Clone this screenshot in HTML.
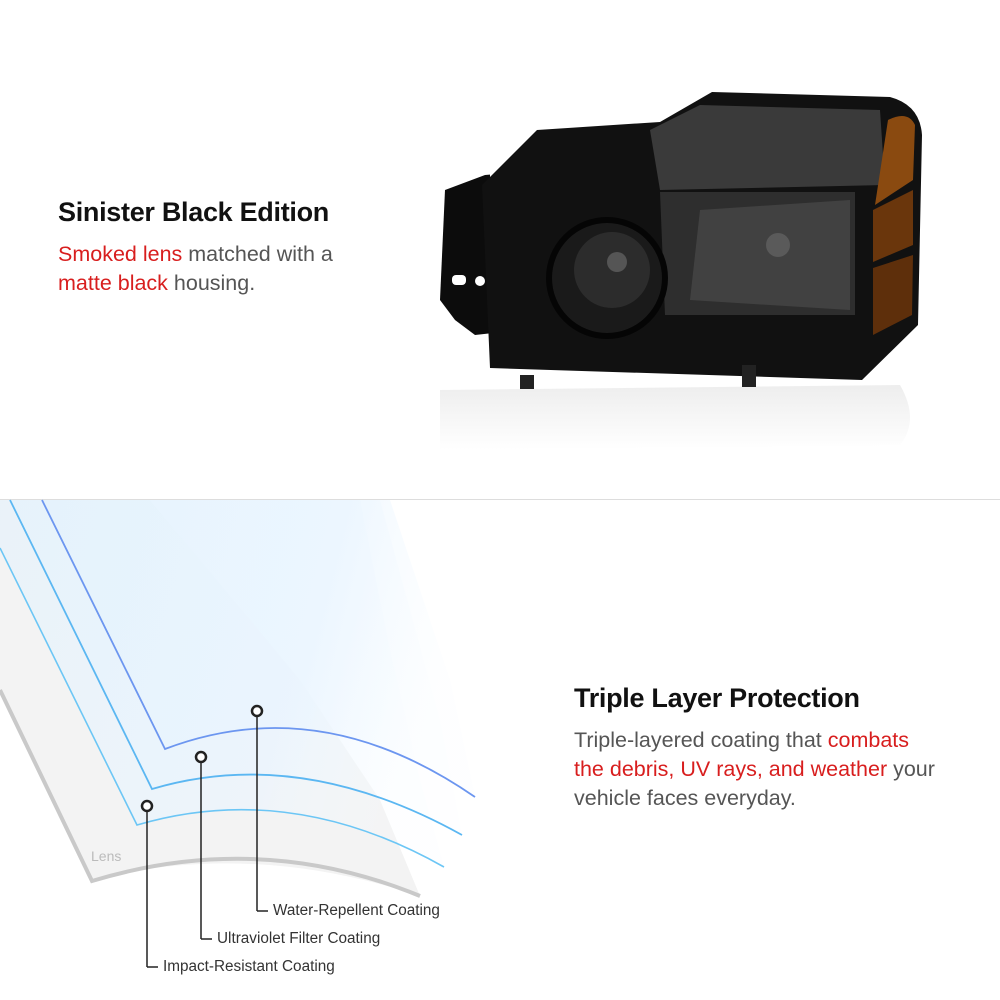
<!DOCTYPE html>
<html><head><meta charset="utf-8"><style>
html,body{margin:0;padding:0;background:#fff;}
body{width:1000px;height:1000px;position:relative;overflow:hidden;font-family:"Liberation Sans",Arial,sans-serif;}
.t{position:absolute;color:#111;font-size:27px;font-weight:bold;letter-spacing:-0.3px}
.p{position:absolute;color:#555;font-size:21.5px;line-height:29px}
.r{color:#d81e1e}
.lab{position:absolute;font-size:15.3px;color:#333}
</style></head><body>
<svg width="1000" height="1000" style="position:absolute;left:0;top:0">
<defs>
<linearGradient id="blu" x1="0" y1="0" x2="1" y2="0.2">
<stop offset="0" stop-color="#e3f2fd"/><stop offset="0.7" stop-color="#eaf5ff"/><stop offset="1" stop-color="#f6fbff" stop-opacity="0.3"/></linearGradient>
<linearGradient id="refl" x1="0" y1="0" x2="0" y2="1"><stop offset="0" stop-color="#d8d8d8"/><stop offset="1" stop-color="#fff"/></linearGradient>
</defs>
<line x1="0" y1="499.5" x2="1000" y2="499.5" stroke="#ddd"/>
<!-- lens -->
<path d="M0,690 L92,880 Q250,840 420,896 L380,800 L300,680 L150,500 L0,500 Z" fill="#f3f3f3"/>
<path d="M0,690 L92,881 Q260,830 420,896" fill="none" stroke="#c9c9c9" stroke-width="4"/>
<!-- layers fill -->
<path d="M0,548 L137,825 Q290,780 444,867 L420,780 L390,650 L360,500 L0,500 Z" fill="url(#blu)" opacity="0.6"/>
<path d="M10,500 L152,789 Q300,745 462,835 L440,720 L380,500 Z" fill="url(#blu)" opacity="0.5"/>
<path d="M42,500 L165,749 Q320,690 475,797 L450,680 L390,500 Z" fill="url(#blu)" opacity="0.6"/>
<path d="M0,548 L137,825 Q290,780 444,867" fill="none" stroke="#6cc6f5" stroke-width="1.6"/>
<path d="M10,500 L152,789 Q300,745 462,835" fill="none" stroke="#5bb7f2" stroke-width="1.8"/>
<path d="M42,500 L165,749 Q320,690 475,797" fill="none" stroke="#6c96f0" stroke-width="1.8"/>
<!-- pointers -->
<g stroke="#222" stroke-width="1.5" fill="none">
<line x1="147" y1="811" x2="147" y2="967"/><line x1="147" y1="967" x2="158" y2="967"/>
<line x1="201" y1="763" x2="201" y2="939"/><line x1="201" y1="939" x2="212" y2="939"/>
<line x1="257" y1="717" x2="257" y2="911"/><line x1="257" y1="911" x2="268" y2="911"/>
<circle cx="147" cy="806" r="5" stroke-width="2.5" fill="#fff"/>
<circle cx="201" cy="757" r="5" stroke-width="2.5" fill="#fff"/>
<circle cx="257" cy="711" r="5" stroke-width="2.5" fill="#fff"/>
</g>
<text x="91" y="861" font-family="Liberation Sans" font-size="14" fill="#bbb">Lens</text>
<!-- headlight reflection -->
<path d="M440,390 L900,385 Q920,420 900,445 L440,450 Z" fill="url(#refl)" opacity="0.45"/>
<!-- bracket -->
<path d="M445,190 L485,175 L520,172 L520,330 L475,335 L455,320 L440,300 Z" fill="#0c0c0c"/>
<rect x="452" y="275" width="14" height="10" rx="4" fill="#fff"/>
<circle cx="480" cy="281" r="5" fill="#fff"/>
<rect x="490" y="170" width="12" height="8" fill="#fff"/>
<!-- housing -->
<path d="M537,130 L660,122 L712,92 L890,97 Q920,105 922,135 L918,325 L862,380 L490,368 L482,185 Z" fill="#111"/>
<path d="M650,130 L700,105 L880,110 L885,185 L660,190 Z" fill="#3a3a3a"/>
<path d="M660,192 L855,192 L855,315 L665,315 Z" fill="#2e2e2e"/>
<path d="M700,210 L850,200 L850,310 L690,300 Z" fill="#4a4a4a" opacity="0.7"/>
<circle cx="607" cy="278" r="58" fill="#1a1a1a" stroke="#050505" stroke-width="6"/>
<circle cx="612" cy="270" r="38" fill="#2c2c2c"/>
<circle cx="617" cy="262" r="10" fill="#555"/>
<circle cx="778" cy="245" r="12" fill="#5a5a5a"/>
<path d="M888,120 Q908,110 915,125 L913,180 L875,205 Z" fill="#8a4a10"/>
<path d="M873,210 L913,190 L913,245 L873,262 Z" fill="#6a360c"/>
<path d="M873,268 L913,255 L912,315 L873,335 Z" fill="#5e2f0b"/>
<rect x="520" y="375" width="14" height="14" fill="#222"/>
<rect x="742" y="365" width="14" height="22" fill="#222"/>
</svg>
<div class="t" style="left:58px;top:197px">Sinister Black Edition</div>
<div class="p" style="left:58px;top:240px"><span class="r">Smoked lens</span> matched with a<br><span class="r">matte black</span> housing.</div>
<div class="t" style="left:574px;top:683px">Triple Layer Protection</div>
<div class="p" style="left:574px;top:726px">Triple-layered coating that <span class="r">combats<br>the debris, UV rays, and weather</span> your<br>vehicle faces everyday.</div>
<div class="lab" style="left:273px;top:902px">Water-Repellent Coating</div>
<div class="lab" style="left:217px;top:930px">Ultraviolet Filter Coating</div>
<div class="lab" style="left:163px;top:958px">Impact-Resistant Coating</div>
</body></html>
